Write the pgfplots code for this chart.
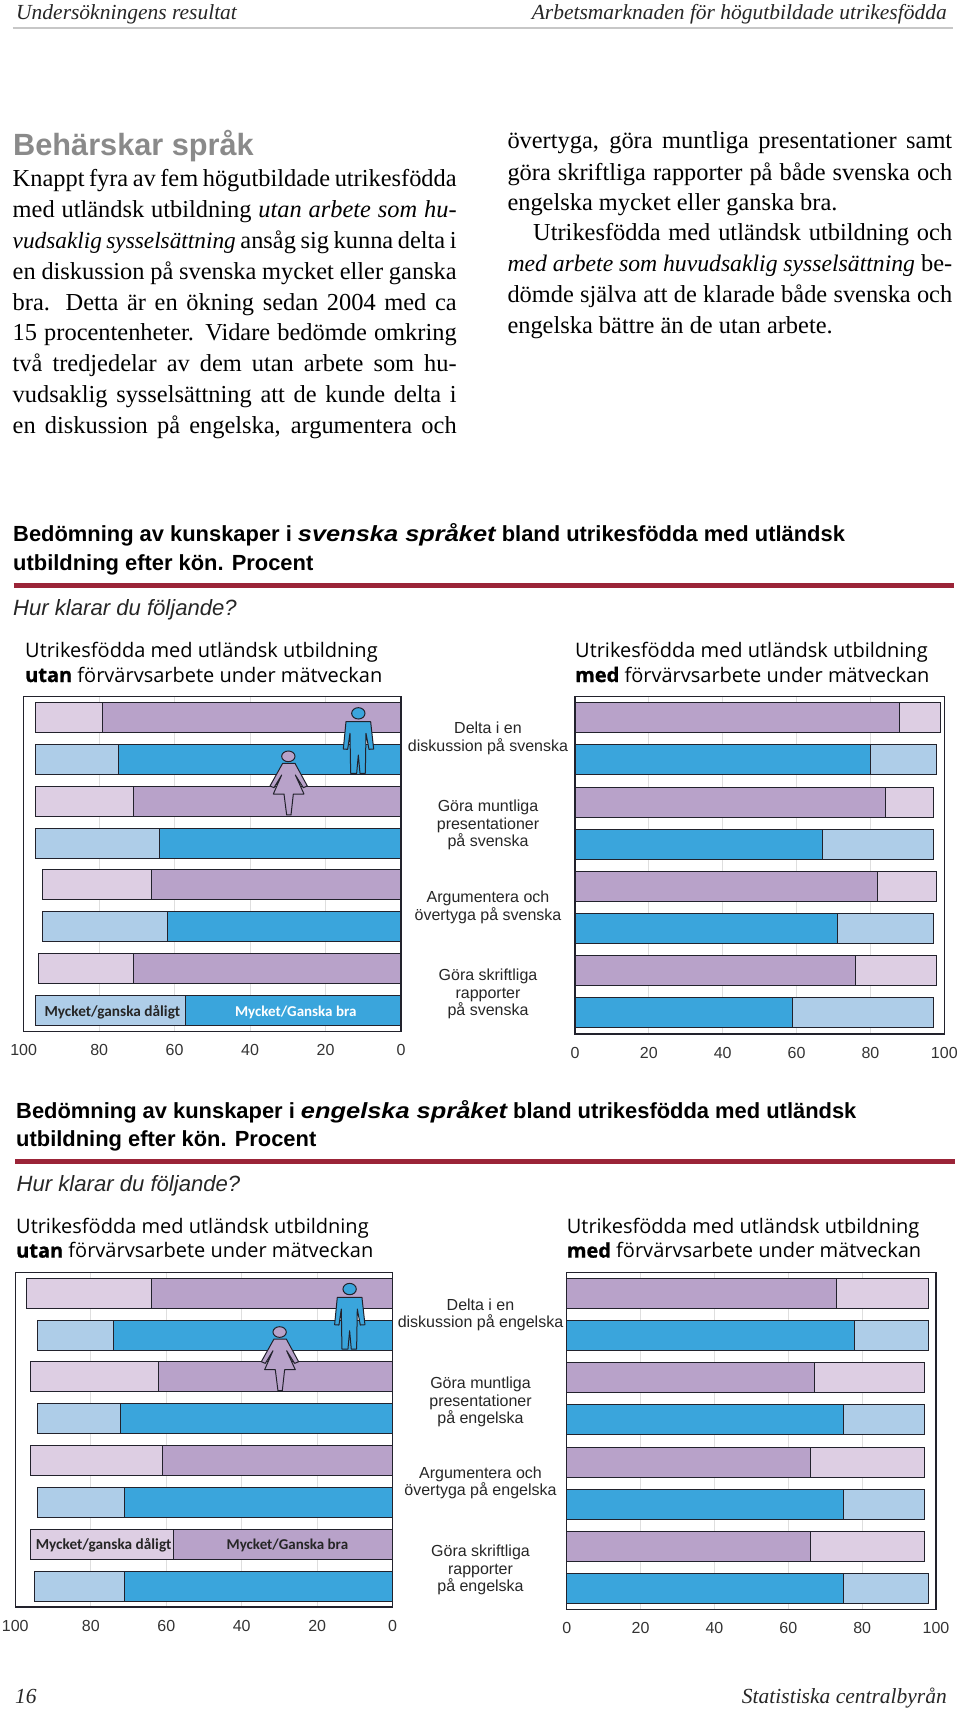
\documentclass[border=0pt]{standalone}
\usepackage{fontspec}
\usepackage{pgfplots}
\pgfplotsset{compat=1.18}
\setmainfont{Liberation Serif}
\newfontfamily\arial{Liberation Sans}
\newfontfamily\brett[FakeStretch=1.16]{Liberation Sans}
\newfontfamily\frut{Open Sans}
\newfontfamily\frutb[FakeBold=1]{Open Sans}
\newfontfamily\calib{Carlito}
\definecolor{lila}{HTML}{B8A2C9}
\definecolor{ljuslila}{HTML}{DDCEE3}
\definecolor{bla}{HTML}{3AA5DC}
\definecolor{ljusbla}{HTML}{AECDE8}
\definecolor{ram}{HTML}{22222C}
\definecolor{rubrik}{HTML}{8A8A8A}
\definecolor{vinrod}{HTML}{9B2438}

\newcommand{\fs}[1]{\fontsize{#1}{#1}\selectfont}
\newcommand{\txt}[3]{\node[anchor=base west,inner sep=0pt] at (#1,#2) {#3};}
\newcommand{\just}[4]{\node[anchor=base west,inner sep=0pt] at (#1,#2) {\makebox[#3pt][s]{\fs{24.4}#4}};}
\newcommand{\mitt}[3]{\node[anchor=base,inner sep=0pt,text=black!85] at (#1,#2) {\arial\fs{16}#3};}
\newcommand{\undert}[3]{%
  \node[anchor=base west,inner sep=0pt] at (#1,#2) {\frut\fs{20}Utrikesfödda med utländsk utbildning};
  \node[anchor=base west,inner sep=0pt] at (#1,#2+24.3) {\frut\fs{20}{\frutb\bfseries #3} förvärvsarbete under mätveckan};}
\newcommand{\man}[2]{\begin{scope}[shift={(#1,#2)},x=0.3333pt,y=-0.3333pt,line width=1pt,draw=ram]
  \draw[fill=bla] (295,55) ellipse (20 and 17);
  \draw[fill=bla,line join=round] (258,80)--(332,80)--(341,162)--(327,163)--(318,115)--(316,235)--(300,235)--(295,180)--(290,235)--(272,235)--(270,115)--(263,163)--(250,162)--cycle;
\end{scope}}
\newcommand{\woman}[2]{\begin{scope}[shift={(#1,#2)},x=0.3333pt,y=-0.3333pt,line width=1pt,draw=ram]
  \draw[fill=lila] (85,184) ellipse (20 and 16);
  \draw[fill=lila,line join=round] (68,205)--(105,205)--(142,273)--(130,278)--(106,240)--(132,297)--(100,297)--(93,360)--(80,360)--(72,297)--(40,297)--(65,240)--(42,278)--(30,273)--cycle;
\end{scope}}

\pgfplotsset{
  panel/.style={
    scale only axis, xbar, bar width=30pt, /pgf/bar shift=0pt,
    anchor=south west, clip=false,
    xmin=0, xmax=100, ymin=-0.5, ymax=7.5,
    xtick={0,20,40,60,80,100}, ytick=\empty,
    xmajorgrids, grid style={black!13, line width=0.8pt},
    major tick length=0pt, xtick pos=bottom,
    axis line style={draw=ram, line width=1.2pt},
    /pgf/number format/assume math mode=true,
    xticklabel style={font=\arial\fs{16}, text=black!80},
    tick label style={yshift=-9.5pt},
  },
  barline/.style={draw=ram, line width=1pt},
}

\begin{document}
\begin{tikzpicture}[x=1pt,y=-1pt]
\useasboundingbox (0,0) rectangle (960,1711);

% sidhuvud
\txt{16}{19}{\itshape\fs{21.5}\color{black!85}Undersökningens resultat}
\node[anchor=base east,inner sep=0pt] at (947,19) {\itshape\fs{21.5}\color{black!85}Arbetsmarknaden för högutbildade utrikesfödda};
\draw[line width=1.8pt,draw=black!22] (12.5,27.7)--(953,27.7);

% brödtext
\txt{13}{155}{\arial\bfseries\fs{30.7}\color{rubrik}Behärskar språk}
\just{12.5}{186}{444}{Knappt fyra av fem högutbildade utrikesfödda}
\just{12.5}{217.3}{444}{med utländsk utbildning \textit{utan arbete som hu-}}
\just{12.5}{248.3}{444}{{\fs{23.3}\textit{vudsaklig sysselsättning}} ansåg sig kunna delta i}
\just{12.5}{279.3}{444}{en diskussion på svenska mycket eller ganska}
\just{12.5}{310}{444}{bra. Detta är en ökning sedan 2004 med ca}
\just{12.5}{340.7}{444}{15 procentenheter. Vidare bedömde omkring}
\just{12.5}{371.7}{444}{två tredjedelar av dem utan arbete som hu-}
\just{12.5}{402.7}{444}{vudsaklig sysselsättning att de kunde delta i}
\just{12.5}{433.3}{444}{en diskussion på engelska, argumentera och}
\just{507.3}{148.3}{444.7}{övertyga, göra muntliga presentationer samt}
\just{507.3}{180}{444.7}{göra skriftliga rapporter på både svenska och}
\txt{507.3}{210.7}{\fs{24.4}engelska mycket eller ganska bra.}
\just{533}{240.7}{419}{Utrikesfödda med utländsk utbildning och}
\just{507.3}{271.7}{444.7}{{\fs{23.7}\textit{med arbete som huvudsaklig sysselsättning}} be-}
\just{507.3}{302.7}{444.7}{dömde själva att de klarade både svenska och}
\txt{507.3}{333.3}{\fs{24.4}engelska bättre än de utan arbete.}

% svenska
\txt{13}{541.7}{\arial\bfseries\fs{21.9}Bedömning av kunskaper i {\brett\itshape svenska språket} bland utrikesfödda med utländsk}
\txt{13}{570}{\arial\bfseries\fs{21.9}utbildning efter kön. Procent}
\draw[line width=4.6pt,draw=vinrod] (13.5,585.3)--(953.5,585.3);
\txt{13}{615}{\arial\itshape\fs{22.1}\color{black!85}Hur klarar du följande?}
\undert{25}{657.7}{utan}
\undert{575}{657.7}{med}

\begin{axis}[panel, at={(23.7pt,-1031.3pt)}, width=377.3pt, height=334.6pt, x dir=reverse]
\addplot[barline, fill=ljuslila] coordinates {(97,7) (97,5) (95,3) (96,1)};
\addplot[barline, fill=ljusbla] coordinates {(97,6) (97,4) (95,2) (97,0)};
\addplot[barline, fill=lila] coordinates {(79,7) (71,5) (66,3) (71,1)};
\addplot[barline, fill=bla] coordinates {(75,6) (64,4) (62,2) (57,0)};
\node[inner sep=0pt,yshift=-2pt] at (axis cs:76.5,0) {\calib\bfseries\fs{15.3}\color{black!85}Mycket/ganska dåligt};
\node[inner sep=0pt,yshift=-2pt] at (axis cs:27.9,0) {\calib\bfseries\fs{15}\color{white}Mycket/Ganska bra};
\end{axis}

\begin{axis}[panel, at={(575pt,-1034pt)}, width=369.3pt, height=337.3pt]
\addplot[barline, fill=ljuslila] coordinates {(99,7) (97,5) (98,3) (98,1)};
\addplot[barline, fill=ljusbla] coordinates {(98,6) (97,4) (97,2) (97,0)};
\addplot[barline, fill=lila] coordinates {(88,7) (84,5) (82,3) (76,1)};
\addplot[barline, fill=bla] coordinates {(80,6) (67,4) (71,2) (59,0)};
\end{axis}

\man{260}{695}
\woman{260}{695}

\mitt{488}{733.3}{Delta i en}
\mitt{488}{751}{diskussion på svenska}
\mitt{488}{811.7}{Göra muntliga}
\mitt{488}{829.3}{presentationer}
\mitt{488}{846.7}{på svenska}
\mitt{488}{902}{Argumentera och}
\mitt{488}{920}{övertyga på svenska}
\mitt{488}{980.7}{Göra skriftliga}
\mitt{488}{998}{rapporter}
\mitt{488}{1015}{på svenska}

% engelska
\txt{16}{1118}{\arial\bfseries\fs{21.9}Bedömning av kunskaper i {\brett\itshape engelska språket} bland utrikesfödda med utländsk}
\txt{16}{1146.7}{\arial\bfseries\fs{21.9}utbildning efter kön. Procent}
\draw[line width=4.4pt,draw=vinrod] (15.3,1161.3)--(955.3,1161.3);
\txt{16.5}{1191.7}{\arial\itshape\fs{22.1}\color{black!85}Hur klarar du följande?}
\undert{16}{1233.3}{utan}
\undert{566.7}{1233.3}{med}

\begin{axis}[panel, at={(15.3pt,-1607pt)}, width=377.4pt, height=334.7pt, x dir=reverse]
\addplot[barline, fill=ljuslila] coordinates {(97,7) (96,5) (96,3) (96,1)};
\addplot[barline, fill=ljusbla] coordinates {(94,6) (94,4) (94,2) (95,0)};
\addplot[barline, fill=lila] coordinates {(64,7) (62,5) (61,3) (58,1)};
\addplot[barline, fill=bla] coordinates {(74,6) (72,4) (71,2) (71,0)};
\node[inner sep=0pt,yshift=-1pt] at (axis cs:76.6,1) {\calib\bfseries\fs{15.3}\color{black!85}Mycket/ganska dåligt};
\node[inner sep=0pt,yshift=-1pt] at (axis cs:27.9,1) {\calib\bfseries\fs{15}\color{black!85}Mycket/Ganska bra};
\end{axis}

\begin{axis}[panel, at={(566.7pt,-1609.7pt)}, width=369.3pt, height=337.4pt]
\addplot[barline, fill=ljuslila] coordinates {(98,7) (97,5) (97,3) (97,1)};
\addplot[barline, fill=ljusbla] coordinates {(98,6) (97,4) (97,2) (98,0)};
\addplot[barline, fill=lila] coordinates {(73,7) (67,5) (66,3) (66,1)};
\addplot[barline, fill=bla] coordinates {(78,6) (75,4) (75,2) (75,0)};
\end{axis}

\man{251.3}{1270.7}
\woman{251.3}{1270.7}

\mitt{480.5}{1310}{Delta i en}
\mitt{480.5}{1327.3}{diskussion på engelska}
\mitt{480.5}{1388.3}{Göra muntliga}
\mitt{480.5}{1406}{presentationer}
\mitt{480.5}{1423}{på engelska}
\mitt{480.5}{1478.3}{Argumentera och}
\mitt{480.5}{1495.7}{övertyga på engelska}
\mitt{480.5}{1556.7}{Göra skriftliga}
\mitt{480.5}{1574}{rapporter}
\mitt{480.5}{1591.7}{på engelska}

% sidfot
\txt{15}{1703}{\itshape\fs{21.5}\color{black!85}16}
\node[anchor=base east,inner sep=0pt] at (947,1703) {\itshape\fs{21.5}\color{black!85}Statistiska centralbyrån};
\end{tikzpicture}
\end{document}
